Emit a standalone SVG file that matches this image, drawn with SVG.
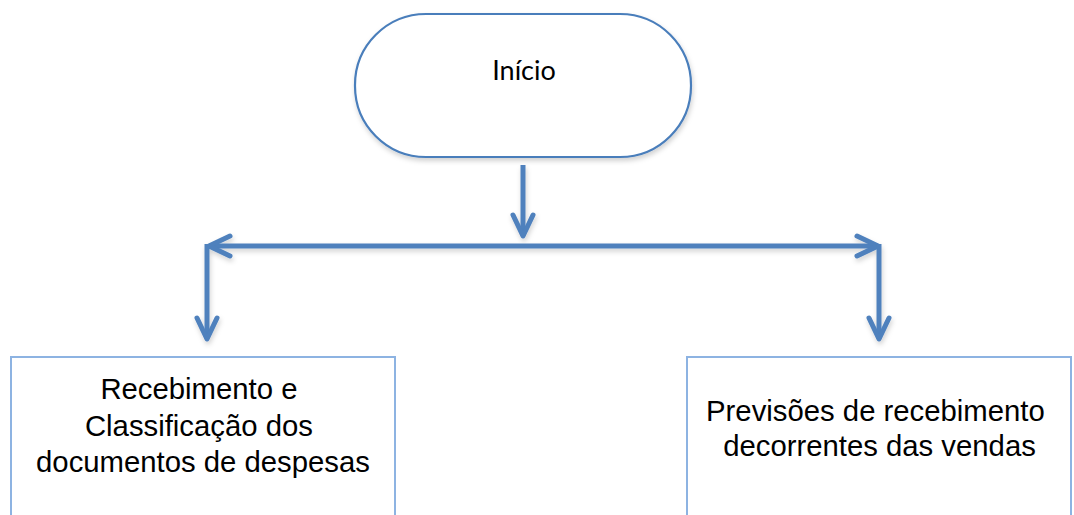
<svg xmlns="http://www.w3.org/2000/svg" width="1074" height="515" viewBox="0 0 1074 515">
  <style>
    .terminator { fill: #ffffff; stroke: #4A7EBB; stroke-width: 2.2; }
    .box { fill: #ffffff; stroke: #8DB3E2; stroke-width: 2; }
    .flow { fill: none; stroke: #4F81BD; stroke-width: 5; }
    .head { fill: none; stroke: #4F81BD; stroke-width: 5; stroke-linecap: round; stroke-linejoin: round; }
    .label-start { font-family: Lato, "Open Sans", sans-serif; font-size: 27px; fill: #000000; }
    .label { font-family: "Liberation Sans", Arial, sans-serif; font-size: 29.3px; fill: #000000; }
  </style>
  <defs>
    <filter id="softShadow" x="-10%" y="-10%" width="130%" height="140%">
      <feDropShadow dx="1" dy="3" stdDeviation="2.5" flood-color="#000000" flood-opacity="0.18"/>
    </filter>
    <marker id="chevron" markerUnits="userSpaceOnUse" viewBox="-26 -14 30 28" markerWidth="30" markerHeight="28" refX="0" refY="0" orient="auto" overflow="visible">
      <path class="head" d="M-21,-10 L0,0 L-21,10"/>
    </marker>
  </defs>

  <rect width="1074" height="515" fill="#ffffff"/>

  <!-- start terminator -->
  <g id="node-inicio">
    <rect class="terminator" x="355" y="14" width="336" height="143" rx="71" ry="71" filter="url(#softShadow)"/>
    <text class="label-start" x="524" y="80" text-anchor="middle">Início</text>
  </g>

  <!-- connectors -->
  <g id="connectors" filter="url(#softShadow)">
    <line class="flow" x1="523" y1="165" x2="523" y2="236" marker-end="url(#chevron)"/>
    <line class="flow" x1="523" y1="246" x2="209" y2="246" marker-end="url(#chevron)"/>
    <line class="flow" x1="523" y1="246" x2="878" y2="246" marker-end="url(#chevron)"/>
    <line class="flow" x1="207" y1="244" x2="207" y2="339" marker-end="url(#chevron)"/>
    <line class="flow" x1="879" y1="244" x2="879" y2="339" marker-end="url(#chevron)"/>
  </g>

  <!-- expense documents -->
  <g id="node-despesas">
    <rect class="box" x="11" y="357" width="384" height="180"/>
    <text class="label" text-anchor="middle">
      <tspan x="203" y="399">Recebimento e</tspan>
      <tspan x="203" y="436">Classificação dos</tspan>
      <tspan x="203" y="472">documentos de despesas</tspan>
    </text>
  </g>

  <!-- sales receipts forecast -->
  <g id="node-vendas">
    <rect class="box" x="687" y="357" width="384" height="180"/>
    <text class="label" text-anchor="middle">
      <tspan x="879.5" y="421">Previsões de recebimento</tspan>
      <tspan x="879.5" y="456">decorrentes das vendas</tspan>
    </text>
  </g>
</svg>
